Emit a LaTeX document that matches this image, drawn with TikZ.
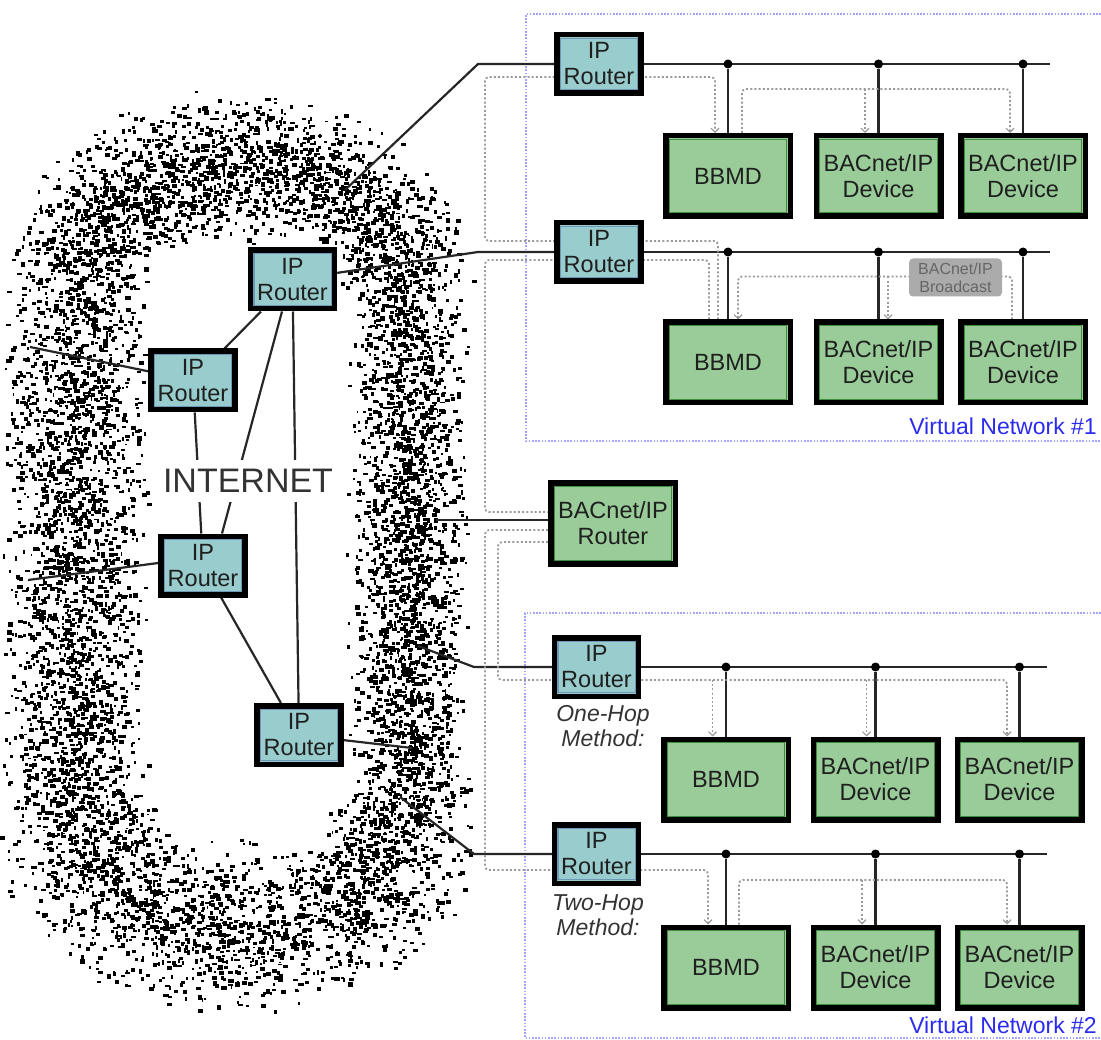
\documentclass[tikz,border=0pt]{standalone}
\usepackage{fontspec}
\setmainfont{Liberation Sans}
\usetikzlibrary{arrows.meta,calc}
\pgfdeclarelayer{speckle}
\pgfdeclarelayer{wires}
\pgfsetlayers{speckle,wires,main}

\definecolor{rtfill}{HTML}{99CCCC}
\definecolor{dvfill}{HTML}{99CC99}
\definecolor{rtedge}{HTML}{6E98B8}
\definecolor{dvedge}{HTML}{3E8E3E}
\definecolor{dashgrey}{HTML}{9A9A9A}
\definecolor{vnblue}{HTML}{A4A4FF}
\definecolor{vntext}{HTML}{2B2BF0}
\definecolor{tagfill}{HTML}{ABABAB}
\definecolor{tagtext}{HTML}{666666}

\tikzset{
  unit/.style={draw=black, line width=5.5pt, inner sep=0pt, align=center,
    text=black!88, font=\fontsize{23.5}{26}\selectfont},
  iprouter/.style={unit, fill=rtfill, minimum width=84pt, minimum height=58.5pt,
    path picture={\draw[rtedge, line width=1.2pt]
      ([shift={(3.4pt,3.4pt)}]path picture bounding box.south west) rectangle
      ([shift={(-3.4pt,-3.4pt)}]path picture bounding box.north east);}},
  bacdev/.style={unit, fill=dvfill, minimum width=124.5pt, minimum height=80.5pt,
    path picture={\draw[dvedge, line width=1.2pt]
      ([shift={(3.4pt,3.4pt)}]path picture bounding box.south west) rectangle
      ([shift={(-3.4pt,-3.4pt)}]path picture bounding box.north east);}},
  wire/.style={line width=2.2pt, black!85},
  junc/.style={circle, fill=black, inner sep=0pt, minimum size=9pt},
  bcast/.style={draw=dashgrey, line width=1.8pt, dash pattern=on 2pt off 2.2pt,
    rounded corners=4pt},
  bcastarrow/.style={bcast, -{Straight Barb[length=4pt,width=8pt,line width=1.2pt]}},
  vnet/.style={draw=vnblue, line width=1.6pt, dash pattern=on 1.6pt off 1.6pt},
  vnlabel/.style={text=vntext, font=\fontsize{23}{26}\selectfont, inner sep=0pt,
    anchor=base east},
  method/.style={font=\itshape\fontsize{23}{25}\selectfont, text=black!80,
    align=center, inner sep=0pt, anchor=north},
  tag/.style={fill=tagfill, rounded corners=4pt, text=tagtext,
    font=\fontsize{16}{18}\selectfont, align=center, minimum width=93pt,
    minimum height=38pt, inner sep=0pt}
}

\begin{document}
\begin{tikzpicture}[x=1pt,y=-1pt]
\useasboundingbox (0,0) rectangle (1101,1040);

% ---------------- the Internet as a speckled ring ----------------
\begin{pgfonlayer}{speckle}
\pgfmathsetseed{20231}
\foreach \k in {1,...,8500}{%
  \pgfmathsetmacro\arcpos{1978*rnd}%
  \pgfmathsetmacro\bellv{1.25*(rnd+rnd-1)}%
  \pgfmathsetmacro\wv{1.8+3.6*rnd}%
  \pgfmathsetmacro\hv{1.8+2.8*rnd}%
  \ifdim\arcpos pt<754pt
    \pgfmathsetmacro\phv{\arcpos/754*360}%
    \pgfmathsetmacro\nxv{cos(\phv)}%
    \pgfmathsetmacro\nyv{sin(\phv)}%
    \pgfmathsetmacro\thv{ifthenelse(\nyv<0,60,70)-ifthenelse(\nxv>0,6,0)}%
    \pgfmathsetmacro\pxv{241+ifthenelse(\nxv<0,-46,46)+(120+\thv*\bellv)*\nxv}%
    \pgfmathsetmacro\pyv{547+ifthenelse(\nyv<0,-260,260)+(120+\thv*\bellv)*\nyv}%
  \else
    \pgfmathsetmacro\sqv{\arcpos-754}%
    \ifdim\sqv pt<1040pt
      \ifdim\sqv pt<520pt
        \pgfmathsetmacro\pxv{75-60*\bellv}%
        \pgfmathsetmacro\pyv{287+\sqv}%
      \else
        \pgfmathsetmacro\pxv{407+50*\bellv}%
        \pgfmathsetmacro\pyv{287+\sqv-520}%
      \fi
    \else
      \pgfmathsetmacro\srv{\sqv-1040}%
      \ifdim\srv pt<92pt
        \pgfmathsetmacro\pxv{195+\srv}%
        \pgfmathsetmacro\pyv{167-62*\bellv}%
      \else
        \pgfmathsetmacro\pxv{195+\srv-92}%
        \pgfmathsetmacro\pyv{927+72*\bellv}%
      \fi
    \fi
  \fi
  \fill[black] (\pxv,\pyv) rectangle ++(\wv,\hv);
}
% virtual network frames
\draw[vnet] (1101,14) -- (526,14) -- (526,441) -- (1101,441);
\draw[vnet] (1101,613) -- (525,613) -- (525,1038) -- (1101,1038);
\end{pgfonlayer}

% ---------------- routers inside the Internet ----------------
\node[iprouter] (rA) at (292.5,279.5) {IP\\Router};
\node[iprouter] (rB) at (193,380.5) {IP\\Router};
\node[iprouter] (rC) at (203,565.5) {IP\\Router};
\node[iprouter] (rD) at (299,735) {IP\\Router};
\node[font=\fontsize{34}{36}\selectfont, text=black!80, fill=white,
  inner xsep=2pt, inner ysep=9pt, text height=24pt, text depth=0pt]
  (inet) at (248,481) {INTERNET};

% ---------------- site routers ----------------
\node[iprouter] (r1) at (599,64) {IP\\Router};
\node[iprouter] (r2) at (599,252) {IP\\Router};
\node[iprouter] (r3) at (596.5,667) {IP\\Router};
\node[iprouter] (r4) at (596.5,854) {IP\\Router};
\node[bacdev] (bacr) at (613,523.5) {BACnet/IP\\Router};

% ---------------- devices ----------------
\node[bacdev] (bbA) at (728,176) {BBMD};
\node[bacdev] (dA2) at (878.5,176) {BACnet/IP\\Device};
\node[bacdev] (dA3) at (1023,176) {BACnet/IP\\Device};
\node[bacdev] (bbB) at (728,362.5) {BBMD};
\node[bacdev] (dB2) at (878.5,362.5) {BACnet/IP\\Device};
\node[bacdev] (dB3) at (1023,362.5) {BACnet/IP\\Device};
\node[bacdev] (bbC) at (726,779.5) {BBMD};
\node[bacdev] (dC2) at (875.5,779.5) {BACnet/IP\\Device};
\node[bacdev] (dC3) at (1019.5,779.5) {BACnet/IP\\Device};
\node[bacdev] (bbD) at (726,967.5) {BBMD};
\node[bacdev] (dD2) at (875.5,967.5) {BACnet/IP\\Device};
\node[bacdev] (dD3) at (1019.5,967.5) {BACnet/IP\\Device};

% ---------------- labels ----------------
\node[vnlabel] (vn1) at (1097,435) {Virtual Network \#1};
\node[vnlabel] (vn2) at (1097,1033) {Virtual Network \#2};
\node[method] (onehop) at (603,705) {One-Hop\\Method:};
\node[method] (twohop) at (598,894) {Two-Hop\\Method:};

% ---------------- bus coordinates ----------------
\coordinate (s1) at (345,190);  \coordinate (cc1) at (478,64);  \coordinate (e1) at (1050,64);
\coordinate (cc2) at (478,252); \coordinate (e2) at (1050,252);
\coordinate (s3) at (418,646);  \coordinate (cc3) at (474,667); \coordinate (e3) at (1047,667);
\coordinate (s4) at (400,797);  \coordinate (cc4) at (474,854); \coordinate (e4) at (1047,854);
\coordinate (s5) at (436,520);
\coordinate (sB) at (30,347);
\coordinate (sC) at (28,580);
\coordinate (sD) at (412,748);

% junctions on the buses
\node[junc] (jA1) at (bbA |- cc1) {};
\node[junc] (jA2) at (dA2 |- cc1) {};
\node[junc] (jA3) at (dA3 |- cc1) {};
\node[junc] (jB1) at (bbB |- cc2) {};
\node[junc] (jB2) at (dB2 |- cc2) {};
\node[junc] (jB3) at (dB3 |- cc2) {};
\node[junc] (jC1) at (bbC |- cc3) {};
\node[junc] (jC2) at (dC2 |- cc3) {};
\node[junc] (jC3) at (dC3 |- cc3) {};
\node[junc] (jD1) at (bbD |- cc4) {};
\node[junc] (jD2) at (dD2 |- cc4) {};
\node[junc] (jD3) at (dD3 |- cc4) {};

% broadcast label
\node[tag] (bclabel) at (955.5,277.5) {BACnet/IP\\Broadcast};

% ---------------- broadcast path coordinates ----------------
\coordinate (k1) at (485,77);
\coordinate (k2) at (485,241);
\coordinate (k3) at (485,260);
\coordinate (k4) at (485,512);
\coordinate (k5) at (485,530);
\coordinate (k6) at (485,870);
\coordinate (k7) at (498,542);
\coordinate (k8) at (498,680);
\coordinate (bA) at (1010,89);
\coordinate (bB) at (738,276.5);
\coordinate (bC) at (1007,680);
\coordinate (bD) at (1007,880);
\coordinate (a2) at ([xshift=-13.5pt]dA2.north);
\coordinate (b2) at ([xshift=9.5pt]dB2.north);
\coordinate (ca1) at ([xshift=-13.5pt]bbC.north);
\coordinate (ca2) at ([xshift=-9pt]dC2.north);
\coordinate (d2) at ([xshift=-13.5pt]dD2.north);

\begin{pgfonlayer}{wires}
% Internet mesh
\draw[wire] (rA) -- (rB);
\draw[wire] ([xshift=-10.5pt]rA.south) -- ([xshift=19pt]rC.north);
\draw[wire] (rA) -- (rD);
\draw[wire] (rB) -- (rC);
\draw[wire] (rC) -- (rD);
\draw[wire] (rB) -- (sB);
\draw[wire] ([yshift=2.5pt]rC.west) -- (sC);
\draw[wire] (rD) -- (sD);

% site buses
\draw[wire] (s1) -- (cc1) -- (r1);  \draw[wire] (r1) -- (e1);
\draw[wire] (rA) -- (cc2) -- (r2);  \draw[wire] (r2) -- (e2);
\draw[wire] (s3) -- (cc3) -- (r3);  \draw[wire] (r3) -- (e3);
\draw[wire] (s4) -- (cc4) -- (r4);  \draw[wire] (r4) -- (e4);
\draw[wire] (s5) -- (s5 -| bacr.west);

% drops to the devices
\foreach \j/\d in {jA1/bbA,jA2/dA2,jA3/dA3,jB1/bbB,jB2/dB2,jB3/dB3,
                   jC1/bbC,jC2/dC2,jC3/dC3,jD1/bbD,jD2/dD2,jD3/dD3}
  \draw[wire] (\j) -- (\d);

% broadcast in virtual network #1, lower segment
\draw[bcastarrow] ([xshift=-11pt]dB3.north) |- (bB) -- (bB |- bbB.north);
\draw[bcastarrow] (b2 |- bB) -- (b2);
% BBMD forwards to the upper segment
\draw[bcastarrow] ([xshift=-10pt]bbB.north) |- (k2) -- (k1) -| ([xshift=-13pt]bbA.north);
\draw[bcastarrow] ([xshift=14pt]bbA.north) |- (bA) -- (bA |- dA3.north);
\draw[bcastarrow] (a2 |- bA) -- (a2);
% BBMD forwards to the BACnet/IP router
\draw[bcast] ([xshift=-19pt]bbB.north) |- (k3) -- (k4) -- (k4 -| bacr.west);
% two-hop method
\draw[bcastarrow] (k5 -| bacr.west) -- (k5) -- (k6) -| ([xshift=-18pt]bbD.north);
\draw[bcastarrow] ([xshift=13pt]bbD.north) |- (bD) -- (bD |- dD3.north);
\draw[bcastarrow] (d2 |- bD) -- (d2);
% one-hop method
\draw[bcastarrow] (k7 -| bacr.west) -- (k7) -- (k8) -- (bC) -- (bC |- dC3.north);
\draw[bcastarrow] (ca1 |- bC) -- (ca1);
\draw[bcastarrow] (ca2 |- bC) -- (ca2);
\end{pgfonlayer}
\end{tikzpicture}
\end{document}
